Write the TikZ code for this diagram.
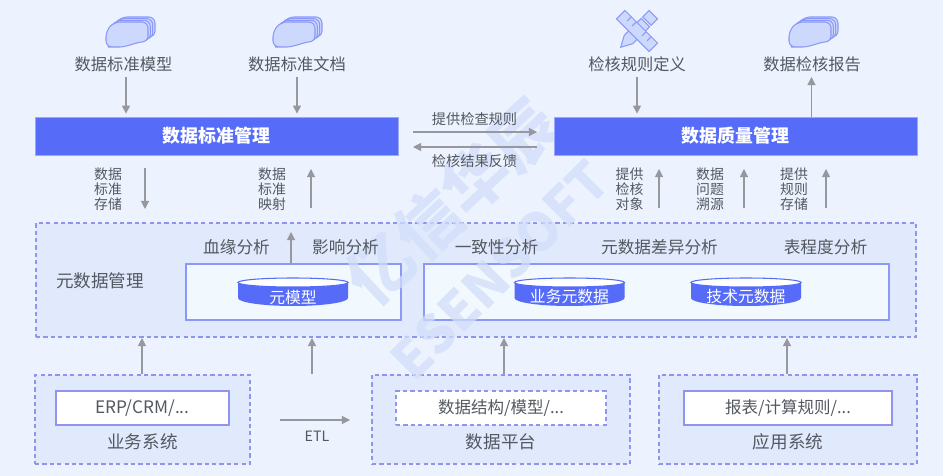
\documentclass[tikz,border=0pt]{standalone}
\usepackage{fontspec}
\usepackage{xcolor}
\usepackage{tikz}
\usetikzlibrary{arrows.meta,positioning,calc,shapes.geometric}
\setmainfont{Noto Sans CJK SC}
\definecolor{pagebg}{RGB}{236,243,254}
\definecolor{panelbg}{RGB}{224,234,252}
\definecolor{deepblue}{RGB}{86,108,248}
\definecolor{dashblue}{RGB}{142,148,240}
\definecolor{iconfill}{RGB}{205,217,252}
\definecolor{txtgray}{RGB}{84,88,96}
\definecolor{arrowgray}{RGB}{150,152,158}
\definecolor{markblue}{RGB}{210,222,250}
\definecolor{boxfill}{RGB}{241,248,254}
\tikzset{
	lbl/.style={text=txtgray,font=\fontsize{9.25pt}{11pt}\selectfont,inner sep=0pt},
	anlbl/.style={lbl,font=\fontsize{9.5pt}{11pt}\selectfont},
	titlelbl/.style={lbl,font=\fontsize{10pt}{12pt}\selectfont},
	smalllbl/.style={lbl,font=\fontsize{8.1pt}{10pt}\selectfont},
	stacklbl/.style={lbl,align=center,font=\fontsize{7.9pt}{8.5pt}\selectfont},
	bar/.style={fill=deepblue,draw=deepblue!60!white,line width=0.4pt,text=white,font=\fontsize{10.2pt}{12pt}\selectfont\bfseries,inner sep=0pt,minimum width=363*0.02cm,minimum height=38*0.02cm},
	panel/.style={fill=panelbg,draw=dashblue,line width=0.8pt,dash pattern=on 2.4pt off 1.8pt,inner sep=0pt},
	innerbox/.style={fill=boxfill,draw=deepblue!70!white,line width=0.6pt,inner sep=0pt,minimum height=56*0.02cm},
	whitebox/.style={fill=white,draw=dashblue,line width=0.9pt,text=txtgray,font=\fontsize{9.4pt}{11pt}\selectfont,inner sep=0pt,minimum height=34*0.02cm},
	cyltext/.style={text=white,font=\fontsize{9pt}{11pt}\selectfont,inner sep=0pt},
	arr/.style={draw=arrowgray,line width=0.6pt,-{Triangle[length=4.6pt,width=4.6pt]}},
	toedge/.style={shorten >=0.06cm},
	doclayer/.style={fill=iconfill,draw=deepblue!70!white,line width=0.6pt}
}
% stacked sheets icon, #1 is the centre
\newcommand{\docicon}[1]{
	\begin{scope}[shift={(#1)}]
		\foreach \d/\e in {7/5,4.7/3.3,2.3/1.7,0/0}{
			\draw[doclayer,rounded corners=3.5pt] (-24+\d,15-\e) -- (-24+\d,-1-\e) -- (-16+\d,-10-\e) -- (18+\d,-10-\e) -- (18+\d,10-\e) .. controls (8+\d,10-\e) and (-4+\d,15-\e) .. (-16+\d,15-\e) -- cycle;
		}
	\end{scope}
}
\begin{document}
\begin{tikzpicture}[x=0.02cm,y=-0.02cm]
	\useasboundingbox (0,0) rectangle (943,476);
	\fill[pagebg] (0,0) rectangle (943,476);

	% panels
	\node[panel,minimum width=880*0.02cm,minimum height=114*0.02cm] (metapanel) at (476,280) {};
	\node[panel,minimum width=215*0.02cm,minimum height=89*0.02cm] (bizpanel) at (142.5,419.5) {};
	\node[panel,minimum width=258*0.02cm,minimum height=89*0.02cm] (platpanel) at (501,419.5) {};
	\node[panel,minimum width=258*0.02cm,minimum height=89*0.02cm] (apppanel) at (788,419.5) {};
	\node[innerbox,minimum width=215*0.02cm] (metabox) at (293.5,292) {};
	\node[innerbox,minimum width=465*0.02cm] (bizbox) at (656.5,292) {};

	% watermark
	\node[rotate=43,text=markblue,text opacity=0.75,font=\fontsize{37pt}{39pt}\selectfont\bfseries,inner sep=0pt] (markcn) at (452,202) {亿信华辰};
	\node[rotate=45,text=markblue,text opacity=0.75,font=\fontsize{30pt}{32pt}\selectfont\bfseries,inner sep=0pt] (marken) at (500,270) {ESENSOFT};

	% top icons
	\docicon{130,32}
	\docicon{297,32}
	\docicon{813,32}
	\begin{scope}[shift={(637,31)}]
		\draw[doclayer,rotate=-45] (-6,-12) -- (6,-12) -- (6,12) -- (0,23) -- (-6,12) -- cycle;
		\draw[doclayer,rotate=-45] (-6,-23) rectangle (6,-14);
		\draw[doclayer,rotate=-45] (-23,-6) rectangle (23,6);
		\draw[doclayer,rotate=-45] (-14,-6) -- (-14,0) (-7,-6) -- (-7,0) (7,-6) -- (7,0) (14,-6) -- (14,0);
	\end{scope}

	% top labels
	\node[lbl] (stdmodel) at (123.5,64) {数据标准模型};
	\node[lbl] (stddoc) at (297,64) {数据标准文档};
	\node[lbl] (checkrule) at (637,64) {检核规则定义};
	\node[lbl] (checkrep) at (812,64) {数据检核报告};

	% bars
	\node[bar] (stdmgr) at (216.5,136) {数据标准管理};
	\node[bar] (qualmgr) at (735.5,136) {数据质量管理};

	\coordinate (a1) at (126,77);
	\coordinate (a2) at (297,77);
	\coordinate (a3) at (637,77);
	\coordinate (a4) at (811.5,77);
	\draw[arr,toedge] (a1) -- (a1 |- stdmgr.north);
	\draw[arr,toedge] (a2) -- (a2 |- stdmgr.north);
	\draw[arr,toedge] (a3) -- (a3 |- qualmgr.north);
	\draw[arr] (a4 |- qualmgr.north) -- (a4);

	% between the bars
	\node[smalllbl] (giverule) at (474.5,119) {提供检查规则};
	\node[smalllbl] (feedback) at (474.5,161) {检核结果反馈};
	\coordinate (b1) at (413,132);
	\coordinate (b2) at (537,132);
	\coordinate (b3) at (537,147);
	\coordinate (b4) at (413,147);
	\draw[arr] (b1) -- (b2);
	\draw[arr] (b3) -- (b4);

	% stacked labels under the bars
	\node[stacklbl] (s1) at (108,189) {数据\\标准\\存储};
	\node[stacklbl] (s2) at (272,189) {数据\\标准\\映射};
	\node[stacklbl] (s3) at (629.5,189) {提供\\检核\\对象};
	\node[stacklbl] (s4) at (710,189) {数据\\问题\\溯源};
	\node[stacklbl] (s5) at (794,189) {提供\\规则\\存储};
	\coordinate (d1) at (145,168);
	\coordinate (d1e) at (145,209);
	\coordinate (d2) at (311,208);
	\coordinate (d2e) at (311,169);
	\coordinate (d3) at (659,208);
	\coordinate (d3e) at (659,169);
	\coordinate (d4) at (744,208);
	\coordinate (d4e) at (744,169);
	\coordinate (d5) at (826,208);
	\coordinate (d5e) at (826,169);
	\draw[arr] (d1) -- (d1e);
	\draw[arr] (d2) -- (d2e);
	\draw[arr] (d3) -- (d3e);
	\draw[arr] (d4) -- (d4e);
	\draw[arr] (d5) -- (d5e);

	% metadata panel
	\node[titlelbl] (metamgr) at (100,281) {元数据管理};
	\node[anlbl] (lineage) at (236.5,247) {血缘分析};
	\node[anlbl] (impact) at (345.5,247) {影响分析};
	\node[anlbl] (consist) at (496.5,247) {一致性分析};
	\node[anlbl] (diff) at (659.5,247) {元数据差异分析};
	\node[anlbl] (degree) at (825.5,247) {表程度分析};
	\coordinate (m0) at (291,232);
	\draw[arr] (m0 |- metabox.north) -- (m0);

	% cylinders
	\foreach \cx/\cname/\ctext in {293/metacyl/元模型,569.5/bizcyl/业务元数据,746/techcyl/技术元数据}{
		\fill[deepblue] (\cx-55,282) -- (\cx-55,298) arc[start angle=180,end angle=0,x radius=55,y radius=8] -- (\cx+55,282) -- cycle;
		\draw[fill=white,draw=deepblue,line width=0.6pt] (\cx,282.5) ellipse[x radius=55,y radius=4.5];
		\node[cyltext] (\cname) at (\cx,297) {\ctext};
	}

	% source boxes
	\node[whitebox,font=\fontsize{9.8pt}{11pt}\selectfont,minimum width=173*0.02cm] (erp) at (142.5,408) {ERP/CRM/...};
	\node[whitebox,dash pattern=on 2.4pt off 1.8pt,minimum width=210*0.02cm] (dstruct) at (501,408) {数据结构/模型/...};
	\node[whitebox,minimum width=208*0.02cm] (report) at (788,408) {报表/计算规则/...};
	\node[titlelbl] (bizsys) at (142.5,442) {业务系统};
	\node[titlelbl] (dataplat) at (501,442) {数据平台};
	\node[titlelbl] (appsys) at (788,442) {应用系统};

	\coordinate (u1) at (142,338);
	\coordinate (u2) at (312,338);
	\coordinate (u2s) at (312,374);
	\coordinate (u3) at (504,338);
	\coordinate (u4) at (787,338);
	\draw[arr] (u1 |- bizpanel.north) -- (u1);
	\draw[arr] (u2s) -- (u2);
	\draw[arr] (u3 |- platpanel.north) -- (u3);
	\draw[arr] (u4 |- apppanel.north) -- (u4);

	\coordinate (etl1) at (280,420);
	\coordinate (etl2) at (350,420);
	\draw[arr] (etl1) -- (etl2);
	\node[smalllbl] (etl) at (317,436) {ETL};
\end{tikzpicture}
\end{document}
